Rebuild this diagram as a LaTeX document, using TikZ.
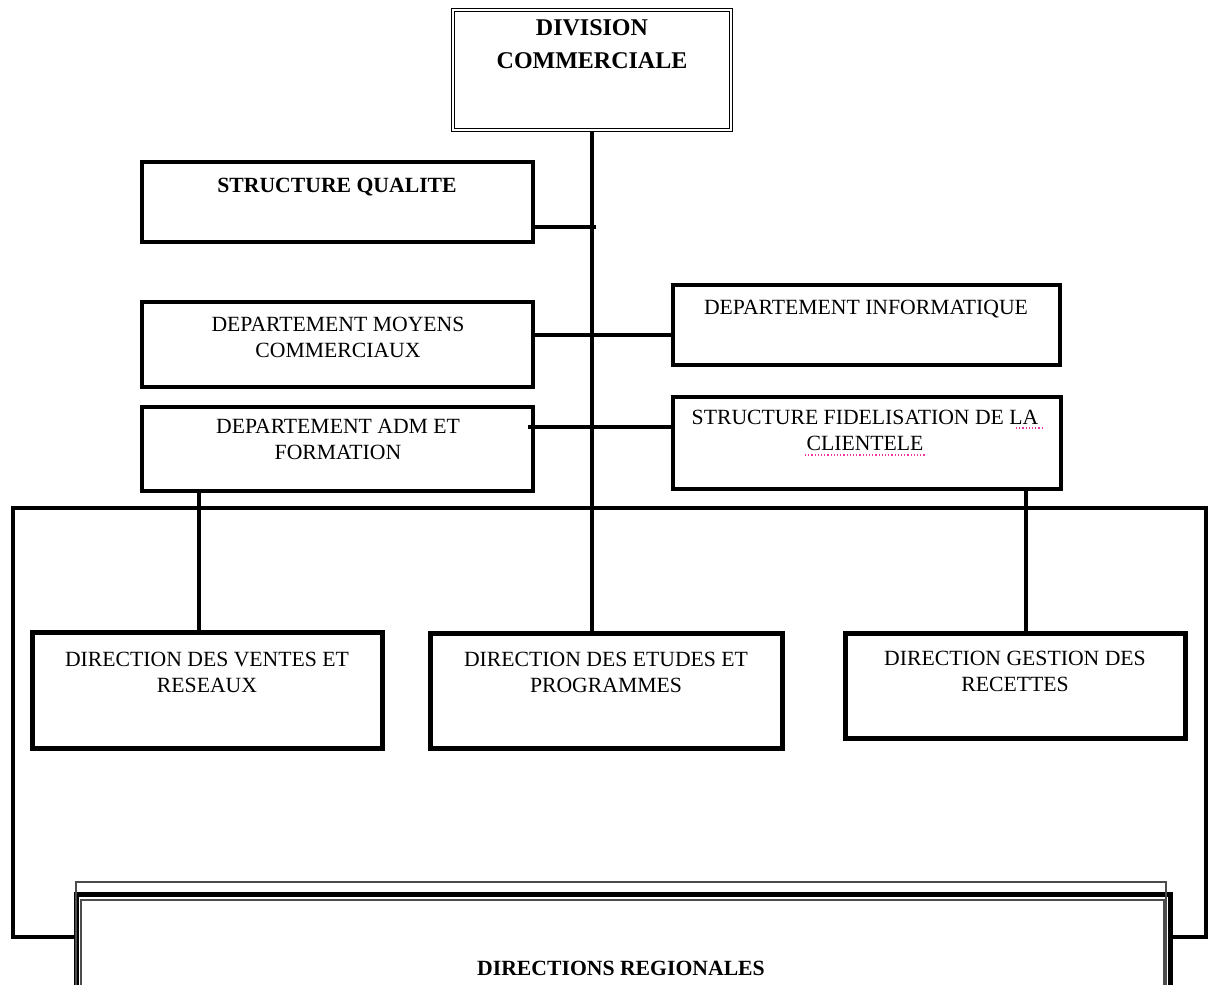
\documentclass[tikz,border=0pt]{standalone}
\usepackage{fontspec}
\setmainfont{Liberation Serif}
% box from corner (x1,y1) to corner (x2,y2), y growing downwards
\newcommand\orgbox[6][box]{%
  \node[#1, minimum width={#5-#3}, minimum height={#6-#4}] (#2)
    at ({(#3+#5)/2},{(#4+#6)/2}) {};}
\begin{document}
\begin{tikzpicture}[x=1pt,y=-1pt,
  box/.style={draw, line width=4pt, inner sep=0pt},
  bigbox/.style={draw, line width=5pt, inner sep=0pt},
  headbox/.style={draw, line width=1.6pt, double, double distance=1.2pt, inner sep=0pt},
  link/.style={line width=4.5pt},
  frameline/.style={line width=1.3pt, black!70},
  % labels sit on the baseline of their last line
  lbl/.style={anchor=base, align=center, inner sep=0pt,
    font=\fontsize{21.7}{25.5}\selectfont},
  boldlbl/.style={lbl, font=\fontsize{21.7}{25.5}\selectfont\bfseries},
  speller/.style={magenta!80, line width=1.2pt, dotted}
]
\clip (0,0) rectangle (1211,985);
\fill[white] (0,0) rectangle (1211,985);

% boxes
\orgbox[headbox]{div}{453}{10}{731}{130}
\orgbox{sq}{142}{162}{533}{242}
\orgbox{dmc}{142}{302}{533}{387}
\orgbox{dinf}{673}{285}{1060}{365}
\orgbox{dadm}{142}{407}{533}{491}
\orgbox{sfc}{673}{397}{1061}{489}
\orgbox[bigbox]{dvr}{32}{632}{382}{748}
\orgbox[bigbox]{dep}{430}{633}{782}{748}
\orgbox[bigbox]{dgr}{845}{633}{1185}{738}
\orgbox[bigbox]{dreg}{76}{894}{1170}{1010}

% extra frame lines round the regional box
\draw[frameline] (76,1010) -- (76,882) -- (1166,882) -- (1166,1010);
\draw[frameline] (81,1010) -- (81,900) -- (1164,900) -- (1164,1010);

% labels
\node[lbl, font=\fontsize{24}{33}\selectfont\bfseries] (tdiv) at (592,68) {DIVISION\\COMMERCIALE};
\node[boldlbl] (tsq) at (337,192) {STRUCTURE QUALITE};
\node[lbl] (tdmc) at (338,357) {DEPARTEMENT MOYENS\\COMMERCIAUX};
\node[lbl] (tdinf) at (866,314) {DEPARTEMENT INFORMATIQUE};
\node[lbl] (tdadm) at (338,459) {DEPARTEMENT ADM ET\\FORMATION};
\node[lbl] (tsfc) at (865,450) {STRUCTURE FIDELISATION DE LA\\CLIENTELE};
\node[lbl] (tdvr) at (207,692) {DIRECTION DES VENTES ET\\RESEAUX};
\node[lbl] (tdep) at (606,692) {DIRECTION DES ETUDES ET\\PROGRAMMES};
\node[lbl] (tdgr) at (1015,691) {DIRECTION GESTION DES\\RECETTES};
\node[boldlbl] (tdreg) at (621,975) {DIRECTIONS REGIONALES};

% spelling marks under the fidelisation text
\draw[speller] (1016,428) -- (1043,428);
\draw[speller] (805,455) -- (925,455);

% junction points
\coordinate (j1) at (596,227);
\coordinate (j2) at (592,335);
\coordinate (j3) at (528,427);
\coordinate (xl) at (199,0);
\coordinate (xr) at (1026,0);
\coordinate (bl) at (13,508);
\coordinate (br) at (1206,508);
\coordinate (hl) at (13,937);
\coordinate (hr) at (1206,937);

% connectors
\draw[link] (div.south) -- (div.south |- dep.north);
\draw[link] (sq.east |- j1) -- (j1);
\draw[link] (dmc.east |- j2) -- (dinf.west |- j2);
\draw[link] (j3) -- (sfc.west |- j3);
\draw[link] (dadm.south -| xl) -- (dvr.north -| xl);
\draw[link] (sfc.south -| xr) -- (dgr.north -| xr);
\draw[link, line width=4pt] (dreg.west |- hl) -- (hl) -- (bl) -- (br) -- (hr) -- (dreg.east |- hr);
\end{tikzpicture}
\end{document}
